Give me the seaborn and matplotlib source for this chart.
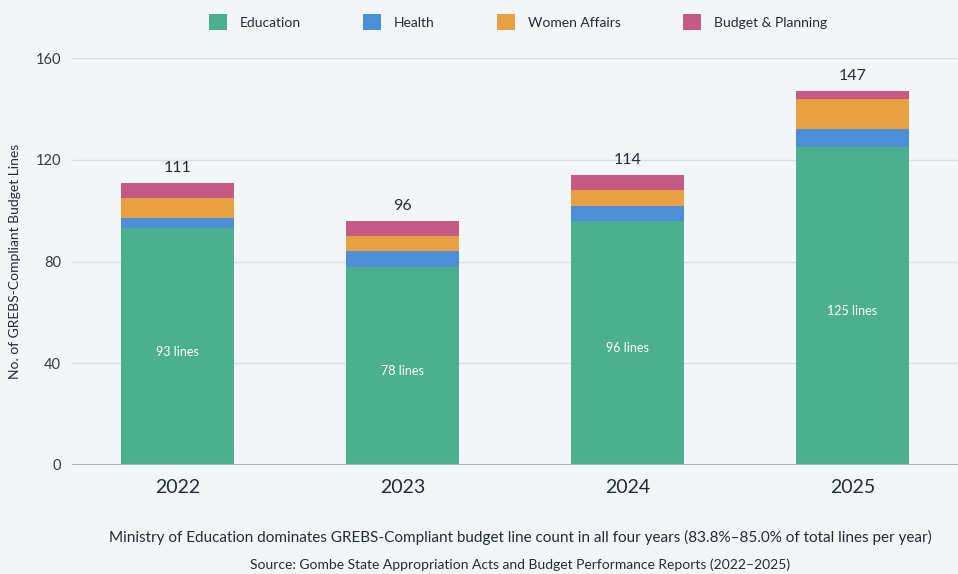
import numpy as np
import pandas as pd
import matplotlib.pyplot as plt
import seaborn as sns
from matplotlib.patches import FancyBboxPatch

years = ['2022', '2023', '2024', '2025']
education = [93, 78, 96, 125]
health = [4, 6, 6, 7]
women_affairs = [8, 6, 6, 12]
budget_planning = [6, 6, 6, 3]

series = ['Education', 'Health', 'Women Affairs', 'Budget & Planning']
colors = ['#4caf8e', '#4a8fd8', '#e9a042', '#c45b87']

sns.set_theme(style='white')
plt.rcParams['font.family'] = ['Lato', 'DejaVu Sans']

bg = '#f3f6f8'
fig = plt.figure(figsize=(9.58, 5.74), dpi=100, facecolor=bg)
ax = fig.add_axes([72 / 958, 1 - 465 / 574, (958 - 72) / 958, (465 - 58) / 574])
ax.set_facecolor(bg)

df = pd.DataFrame({'year': years, 'Education': education, 'Health': health,
                   'Women Affairs': women_affairs, 'Budget & Planning': budget_planning})

bottom = np.zeros(len(years))
for name, col in zip(series, colors):
    sns.barplot(data=df, x='year', y=name, color=col, bottom=bottom, width=0.5,
                saturation=1, ax=ax, linewidth=0, label=name)
    bottom = bottom + df[name].values

# labels inside education segment
for i, v in enumerate(education):
    ax.text(i, v / 2 - 2, f'{v} lines', ha='center', va='center', color='white', fontsize=9)

# totals above bars
totals = bottom
for i, t in enumerate(totals):
    ax.text(i, t + 3, f'{int(t)}', ha='center', va='bottom', color='#222b38', fontsize=11.5)

ax.set_ylim(0, 160)
ax.set_xlim(-0.47, 3.47)
ax.set_yticks([0, 40, 80, 120, 160])
ax.yaxis.grid(True, color='#dcdfe2', linewidth=1)
ax.set_axisbelow(True)
for s in ax.spines.values():
    s.set_visible(False)
ax.axhline(0, color='#aab2bd', linewidth=1.5, zorder=3)
ax.tick_params(axis='y', length=0, labelsize=10.5, labelcolor='#333a45', pad=8)
ax.tick_params(axis='x', length=0, labelsize=14, labelcolor='#222b38', pad=10)
ax.set_xlabel('')
ax.set_ylabel('No. of GREBS-Compliant Budget Lines', fontsize=10, color='#222b38', labelpad=10)

handles = [FancyBboxPatch((0, 0), 1, 1, boxstyle='round,pad=0.1', facecolor=c, edgecolor='none')
           for c in colors]
ax.legend(handles, series, loc='center', bbox_to_anchor=(518 / 958, 1 - 22 / 574),
          bbox_transform=fig.transFigure, ncol=4, frameon=False, fontsize=10,
          handlelength=1.3, handleheight=1.3, columnspacing=4.5, handletextpad=0.9,
          labelcolor='#222b38')

fig.text(520 / 958, 1 - 537 / 574,
         'Ministry of Education dominates GREBS-Compliant budget line count in all four years (83.8%–85.0% of total lines per year)',
         ha='center', va='center', fontsize=11, color='#222b38')
fig.text(520 / 958, 1 - 565 / 574,
         'Source: Gombe State Appropriation Acts and Budget Performance Reports (2022–2025)',
         ha='center', va='center', fontsize=10, color='#222b38')

fig.savefig('out.png', dpi=100, facecolor=bg)
